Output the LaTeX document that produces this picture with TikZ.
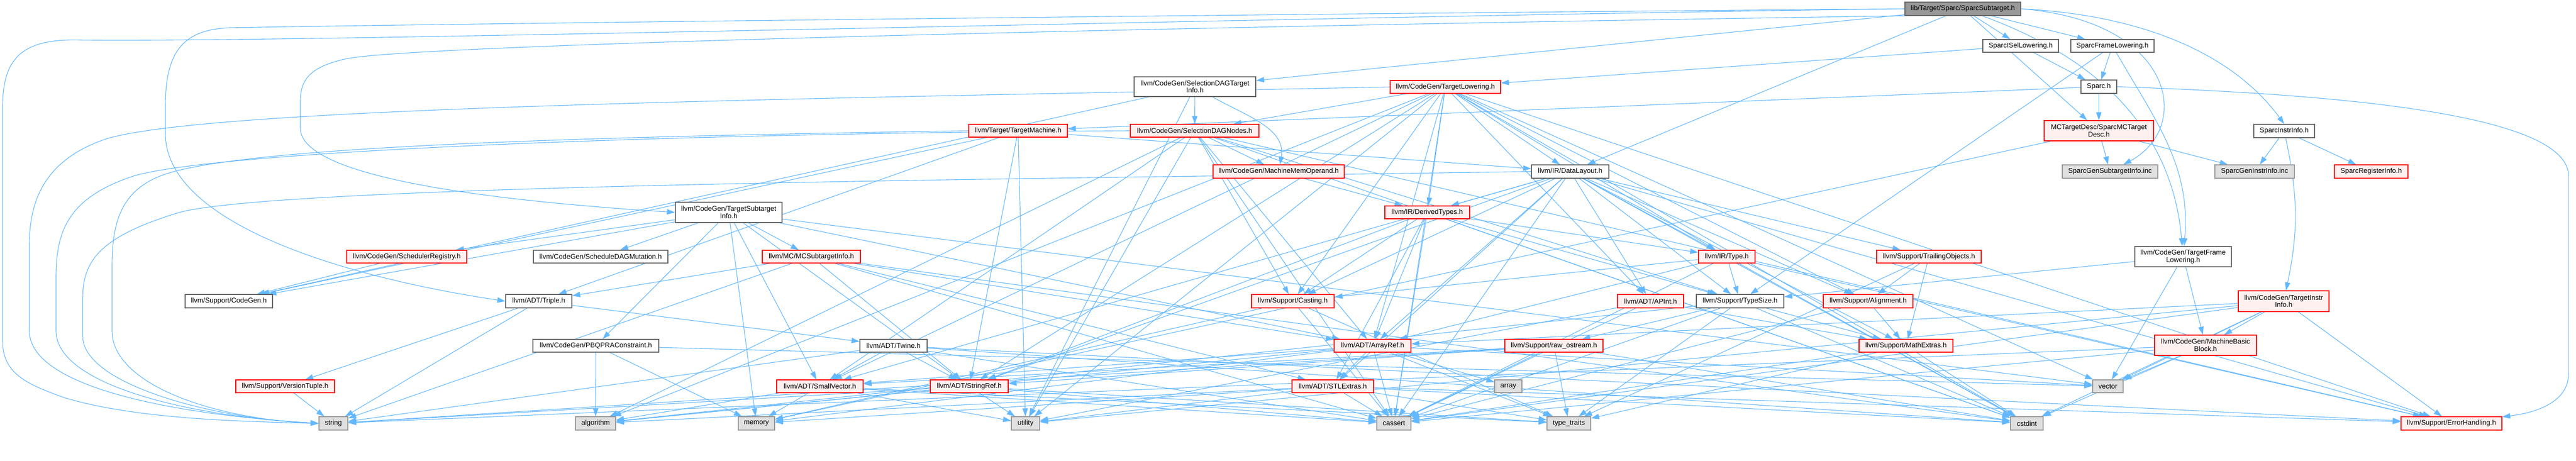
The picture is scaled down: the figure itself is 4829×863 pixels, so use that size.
\documentclass[tikz,border=0pt]{standalone}
\usepackage{fontspec}
\setmainfont{Liberation Sans}
\usetikzlibrary{arrows.meta,backgrounds}
\definecolor{edgec}{HTML}{63B8FF}
\definecolor{gsix}{HTML}{666666}
\definecolor{gnine}{HTML}{999999}
\definecolor{glight}{HTML}{E0E0E0}
\definecolor{pinkf}{HTML}{FFF0F0}
\newcommand\nd[7]{\node[#6, minimum width=#4*0.5pt, minimum height=#5*0.5pt] (#1) at (#2,#3) {#7};}
\begin{document}
\begin{tikzpicture}[x=0.5pt,y=-0.5pt,
  nb/.style={draw, line width=0.65pt, inner sep=0pt, align=center, font=\fontsize{6.5}{6.7}\selectfont, text=black},
  plainn/.style={nb, draw=gsix, fill=white},
  truncn/.style={nb, draw=red, fill=pinkf},
  sysn/.style={nb, draw=gnine, fill=glight},
  rootn/.style={nb, draw=gsix, fill=gnine},
  edge/.style={draw=edgec, line width=0.55pt, -{Triangle[length=7.5pt,width=5pt]}}]
\useasboundingbox (0,0) rectangle (4829,863);
% nodes
\nd{root}{3679.5}{16.5}{217}{25}{rootn}{lib/Target/Sparc/SparcSubtarget.h}
\nd{isel}{3788}{86}{142}{24}{plainn}{SparcISelLowering.h}
\nd{frame}{3960}{86}{156}{24}{plainn}{SparcFrameLowering.h}
\nd{sdti}{2240}{162.5}{228}{37}{plainn}{llvm/CodeGen/SelectionDAGTarget\\Info.h}
\nd{tl}{2709.5}{163}{207}{24}{truncn}{llvm/CodeGen/TargetLowering.h}
\nd{sparc}{3934.5}{162.5}{67}{25}{plainn}{Sparc.h}
\nd{instr}{4282}{245.5}{114}{25}{plainn}{SparcInstrInfo.h}
\nd{mctd}{3934.5}{245}{205}{38}{truncn}{MCTargetDesc/SparcMCTarget\\Desc.h}
\nd{tm}{1908.5}{245}{185}{24}{truncn}{llvm/Target/TargetMachine.h}
\nd{sdn}{2239.5}{245}{241}{24}{truncn}{llvm/CodeGen/SelectionDAGNodes.h}
\nd{mmo}{2397}{321.5}{246}{25}{truncn}{llvm/CodeGen/MachineMemOperand.h}
\nd{dl}{2943.5}{321.5}{145}{25}{plainn}{llvm/IR/DataLayout.h}
\nd{gsi}{3955.5}{321.5}{179}{25}{sysn}{SparcGenSubtargetInfo.inc}
\nd{gii}{4226.5}{321.5}{149}{25}{sysn}{SparcGenInstrInfo.inc}
\nd{reg}{4445}{321.5}{138}{25}{truncn}{SparcRegisterInfo.h}
\nd{tsi}{1366}{398}{200}{38}{plainn}{llvm/CodeGen/TargetSubtarget\\Info.h}
\nd{dt}{2675.5}{398}{159}{24}{truncn}{llvm/IR/DerivedTypes.h}
\nd{sr}{762.5}{481}{225}{24}{truncn}{llvm/CodeGen/SchedulerRegistry.h}
\nd{sdm}{1126}{481}{252}{24}{plainn}{llvm/CodeGen/ScheduleDAGMutation.h}
\nd{mcsi}{1521}{481}{184}{24}{truncn}{llvm/MC/MCSubtargetInfo.h}
\nd{type}{3237}{481}{106}{24}{truncn}{llvm/IR/Type.h}
\nd{to}{3616}{481}{196}{24}{truncn}{llvm/Support/TrailingObjects.h}
\nd{tfl}{4092.5}{481}{181}{38}{plainn}{llvm/CodeGen/TargetFrame\\Lowering.h}
\nd{cg}{429}{564.5}{164}{25}{plainn}{llvm/Support/CodeGen.h}
\nd{triple}{1010}{564.5}{124}{25}{plainn}{llvm/ADT/Triple.h}
\nd{cast}{2423.5}{564.5}{155}{25}{truncn}{llvm/Support/Casting.h}
\nd{apint}{3094}{564.5}{124}{25}{truncn}{llvm/ADT/APInt.h}
\nd{ts}{3262}{564.5}{164}{25}{plainn}{llvm/Support/TypeSize.h}
\nd{align}{3502}{564.5}{168}{25}{truncn}{llvm/Support/Alignment.h}
\nd{tii}{4281}{564.5}{170}{39}{truncn}{llvm/CodeGen/TargetInstr\\Info.h}
\nd{pbqp}{1117}{648}{236}{24}{plainn}{llvm/CodeGen/PBQPRAConstraint.h}
\nd{twine}{1675}{648}{126}{24}{plainn}{llvm/ADT/Twine.h}
\nd{ar}{2573}{648}{144}{24}{truncn}{llvm/ADT/ArrayRef.h}
\nd{raw}{2913}{648}{184}{24}{truncn}{llvm/Support/raw\_ostream.h}
\nd{me}{3573}{648}{176}{24}{truncn}{llvm/Support/MathExtras.h}
\nd{mbb}{4134.5}{647}{191}{38}{truncn}{llvm/CodeGen/MachineBasic\\Block.h}
\nd{vt}{534.5}{724}{185}{24}{truncn}{llvm/Support/VersionTuple.h}
\nd{sv}{1537}{724}{162}{24}{truncn}{llvm/ADT/SmallVector.h}
\nd{sref}{1817}{724}{146}{24}{truncn}{llvm/ADT/StringRef.h}
\nd{stl}{2498.5}{724}{153}{24}{truncn}{llvm/ADT/STLExtras.h}
\nd{array}{2827.5}{724}{51}{24}{sysn}{array}
\nd{vector}{3951.5}{724}{57}{24}{sysn}{vector}
\nd{string}{625}{793.5}{54}{25}{sysn}{string}
\nd{algorithm}{1116.5}{793.5}{75}{25}{sysn}{algorithm}
\nd{memory}{1418}{793.5}{68}{25}{sysn}{memory}
\nd{utility}{1922.5}{793.5}{53}{25}{sysn}{utility}
\nd{cassert}{2613}{793.5}{64}{25}{sysn}{cassert}
\nd{tt}{2941}{793.5}{82}{25}{sysn}{type\_traits}
\nd{cstdint}{3799.5}{793.5}{61}{25}{sysn}{cstdint}
\nd{eh}{4595.5}{793.5}{189}{25}{truncn}{llvm/Support/ErrorHandling.h}
\begin{scope}[on background layer]
\fill[white] (0,0) rectangle (4829,863);
% root
\foreach \t in {mctd,isel,frame,sdti,dl} {\draw[edge] (root) -- (\t);}
\draw[edge] (root) to[out=-20,in=95] (tfl);
\draw[edge] (root.east) .. controls (4050,30) and (4200,120) .. (instr.north);
\draw[edge] (root.east) .. controls (4080,40) and (4110,240) .. (gsi);
\draw[edge] (root.west) .. controls (2500,30) and (600,80) .. (150,75) .. controls (40,72) and (5,110) .. (5,200) -- (5,640) .. controls (5,700) and (50,720) .. (120,745) .. controls (250,785) and (450,790) .. (string.west);
\draw[edge] (root.west) .. controls (2500,25) and (800,45) .. (430,52) .. controls (340,56) and (310,100) .. (310,200) -- (310,250) .. controls (310,420) and (650,520) .. (triple.west);
\draw[edge] (root.south west) .. controls (2500,45) and (800,80) .. (650,110) .. controls (580,125) and (563,150) .. (563,190) -- (563,240) .. controls (563,330) and (900,375) .. (tsi.west);
% sparc files
\foreach \t in {sparc,tl} {\draw[edge] (isel) -- (\t);}
\foreach \t in {sparc,ts} {\draw[edge] (frame) -- (\t);}
\draw[edge] (frame) to[out=-60,in=85] (tfl);
\foreach \t in {mctd,tm} {\draw[edge] (sparc) -- (\t);}
\draw[edge] (sparc.east) .. controls (4500,180) and (4815,230) .. (4815,330) -- (4815,700) .. controls (4815,760) and (4740,775) .. (eh);
\foreach \t in {gsi,gii,memory} {\draw[edge] (mctd) -- (\t);}
\foreach \t in {reg,gii} {\draw[edge] (instr) -- (\t);}
\draw[edge] (instr) to[bend left=12] (tii);
% selectiondag target info
\foreach \t in {sdn,cg,utility} {\draw[edge] (sdti) -- (\t);}
\draw[edge] (sdti) to[out=-30,in=80] (mmo);
% target lowering
\foreach \t in {apint,ar,sv,sref,sdn,dl,dt,type,align,cast,eh,algorithm,cassert,cstdint,utility,vector} {\draw[edge] (tl) -- (\t);}
\draw[edge] (tl.west) .. controls (1500,185) and (400,200) .. (200,260) .. controls (80,300) and (55,380) .. (55,460) -- (55,620) .. controls (55,720) and (300,775) .. (string.west);
% target machine
\foreach \t in {sref,triple,dl,cg,utility} {\draw[edge] (tm) -- (\t);}
\draw[edge] (tm.west) .. controls (1200,255) and (450,270) .. (300,330) .. controls (225,360) and (210,420) .. (210,500) -- (210,620) .. controls (210,720) and (400,785) .. (string.west);
% selection dag nodes
\foreach \t in {ar,sv,mmo,cast,eh,ts,algorithm,cassert,cstdint,utility} {\draw[edge] (sdn) -- (\t);}
\draw[edge] (sdn.west) .. controls (1200,250) and (400,285) .. (250,330) .. controls (130,370) and (105,430) .. (105,520) -- (105,620) .. controls (105,720) and (350,780) .. (string.west);
\draw[edge] (mmo) -- (dt);
% data layout
\foreach \t in {apint,ar,stl,sv,sref,dt,type,align,cast,eh,me,to,ts,cassert,cstdint} {\draw[edge] (dl) -- (\t);}
\draw[edge] (dl.west) .. controls (2000,335) and (500,345) .. (330,400) .. controls (185,445) and (155,490) .. (155,560) -- (155,630) .. controls (155,720) and (400,785) .. (string.west);
% IR types
\foreach \t in {ar,stl,sref,type,cast,ts,cassert,cstdint} {\draw[edge] (dt) -- (\t);}
\foreach \t in {ar,cast,eh,ts,cassert,cstdint} {\draw[edge] (type) -- (\t);}
\foreach \t in {align,me,tt} {\draw[edge] (to) -- (\t);}
\foreach \t in {me,raw,algorithm,cassert,cstdint,tt} {\draw[edge] (ts) -- (\t);}
\foreach \t in {me,cassert} {\draw[edge] (align) -- (\t);}
\foreach \t in {cassert,cstdint,tt} {\draw[edge] (me) -- (\t);}
\foreach \t in {me,cassert,utility} {\draw[edge] (apint) -- (\t);}
\foreach \t in {cassert,memory,tt} {\draw[edge] (cast) -- (\t);}
% ADT
\foreach \t in {stl,sv,algorithm,array,cassert,memory,tt,vector} {\draw[edge] (ar) -- (\t);}
\foreach \t in {eh,algorithm,cassert,cstdint,memory,tt,utility} {\draw[edge] (stl) -- (\t);}
\foreach \t in {algorithm,cassert,memory,tt,utility} {\draw[edge] (sv) -- (\t);}
\foreach \t in {algorithm,cassert,string,tt,utility} {\draw[edge] (sref) -- (\t);}
\foreach \t in {sv,sref,eh,cassert,cstdint,string} {\draw[edge] (twine) -- (\t);}
\foreach \t in {sv,sref,cassert,cstdint,string,tt} {\draw[edge] (raw) -- (\t);}
\foreach \t in {twine,vt,string} {\draw[edge] (triple) -- (\t);}
\draw[edge] (vt) -- (string);
% subtarget info
\foreach \t in {ar,sv,sref,pbqp,sr,sdm,mcsi,cg,memory,vector} {\draw[edge] (tsi) -- (\t);}
\draw[edge] (sr) -- (cg);
\foreach \t in {algorithm,memory,vector} {\draw[edge] (pbqp) -- (\t);}
\foreach \t in {ar,stl,sref,triple,cassert,cstdint,string} {\draw[edge] (mcsi) -- (\t);}
% frame / instr
\foreach \t in {mbb,ts,vector} {\draw[edge] (tfl) -- (\t);}
\foreach \t in {cassert,cstdint,string,vector} {\draw[edge] (mbb) -- (\t);}
\foreach \t in {ar,mbb,eh,cassert,cstdint,utility,vector} {\draw[edge] (tii) -- (\t);}
\end{scope}
\end{tikzpicture}
\end{document}
